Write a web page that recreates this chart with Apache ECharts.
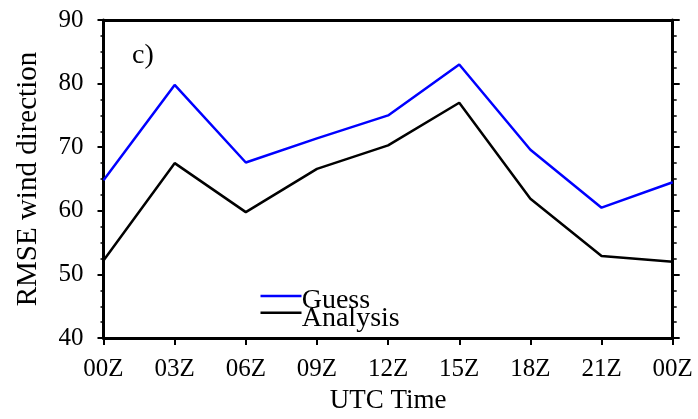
<!DOCTYPE html>
<html>
<head>
<meta charset="utf-8">
<script src="https://cdn.jsdelivr.net/npm/echarts@6/dist/echarts.min.js"></script>
<style>
  html, body { margin: 0; padding: 0; background: #fff; }
  #chart { width: 698px; height: 419px; }
</style>
</head>
<body>
<div id="chart"></div>
<script>
// Forecast hours (UTC), one full day in 3-hour steps
var hours = ['00Z', '03Z', '06Z', '09Z', '12Z', '15Z', '18Z', '21Z', '00Z'];
// RMSE of wind direction
var guess = [64.8, 79.8, 67.6, 71.4, 75.0, 83.0, 69.6, 60.5, 64.5];
var analysis = [52.2, 67.5, 59.8, 66.6, 70.3, 77.0, 61.9, 52.9, 52.0];
var yTicks = [40, 50, 60, 70, 80, 90];
var seriesNames = ['Guess', 'Analysis'];

var FONT = '"Liberation Serif", "DejaVu Serif", serif';
var chart = echarts.init(document.getElementById('chart'), null, { renderer: 'canvas' });

var axisLine = { show: true, lineStyle: { color: '#000', width: 3 } };

chart.setOption({
  animation: false,
  backgroundColor: '#fff',
  grid: { left: 103.5, right: 25.3, top: 20, bottom: 77.3, containLabel: false },
  title: {
    text: 'c)', left: 132, top: 42, padding: 0,
    textStyle: { fontFamily: FONT, fontSize: 28, fontWeight: 'normal', color: '#000' }
  },
  // key: line samples sit a little above the middle of their labels,
  // so the swatches and the words are laid out as two stacked legends
  legend: [{
    orient: 'vertical', left: 260.5, top: 294.75, itemGap: 14.2, padding: 0,
    itemWidth: 41, itemHeight: 2.5, icon: 'rect',
    formatter: function () { return ''; },
    textStyle: { fontSize: 10 },
    data: seriesNames
  }, {
    orient: 'vertical', left: 296.7, top: 287, itemGap: -10.5, padding: 0,
    itemWidth: 0, itemHeight: 0, icon: 'rect',
    itemStyle: { opacity: 0 },
    textStyle: { fontFamily: FONT, fontSize: 28, color: '#000' },
    data: seriesNames
  }],
  xAxis: [{
    type: 'category', data: hours, boundaryGap: false,
    name: 'UTC Time', nameLocation: 'middle', nameGap: 48,
    nameTextStyle: { fontFamily: FONT, fontSize: 27, color: '#000' },
    axisLine: axisLine,
    axisTick: { show: true, inside: false, length: 7, lineStyle: { color: '#000', width: 2 } },
    axisLabel: { fontFamily: FONT, fontSize: 25, color: '#000', margin: 19 },
    splitLine: { show: false }
  }, {
    type: 'category', data: hours, boundaryGap: false, position: 'top',
    axisLine: axisLine, axisTick: { show: false }, axisLabel: { show: false },
    splitLine: { show: false }
  }],
  yAxis: [{
    type: 'value', min: yTicks[0], max: yTicks[yTicks.length - 1], interval: 10,
    name: 'RMSE wind direction', nameLocation: 'middle', nameGap: 61,
    nameTextStyle: { fontFamily: FONT, fontSize: 29, color: '#000' },
    axisLine: axisLine,
    axisTick: { show: true, inside: false, length: 6, lineStyle: { color: '#000', width: 2 } },
    minorTick: { show: true, splitNumber: 4, length: 3, lineStyle: { color: '#000', width: 1.5 } },
    axisLabel: { fontFamily: FONT, fontSize: 25, color: '#000', margin: 20 },
    splitLine: { show: false }
  }, {
    type: 'value', min: yTicks[0], max: yTicks[yTicks.length - 1], interval: 10, position: 'right',
    axisLine: axisLine,
    axisTick: { show: true, inside: false, length: 7, lineStyle: { color: '#000', width: 2 } },
    minorTick: { show: true, splitNumber: 4, length: 4, lineStyle: { color: '#000', width: 1.5 } },
    axisLabel: { show: false },
    splitLine: { show: false }
  }],
  series: [{
    name: seriesNames[0], type: 'line', data: guess, symbol: 'none',
    lineStyle: { color: '#0000ff', width: 2.5 }, itemStyle: { color: '#0000ff' }
  }, {
    name: seriesNames[1], type: 'line', data: analysis, symbol: 'none',
    lineStyle: { color: '#000', width: 2.5 }, itemStyle: { color: '#000' }
  }]
});
</script>
</body>
</html>
